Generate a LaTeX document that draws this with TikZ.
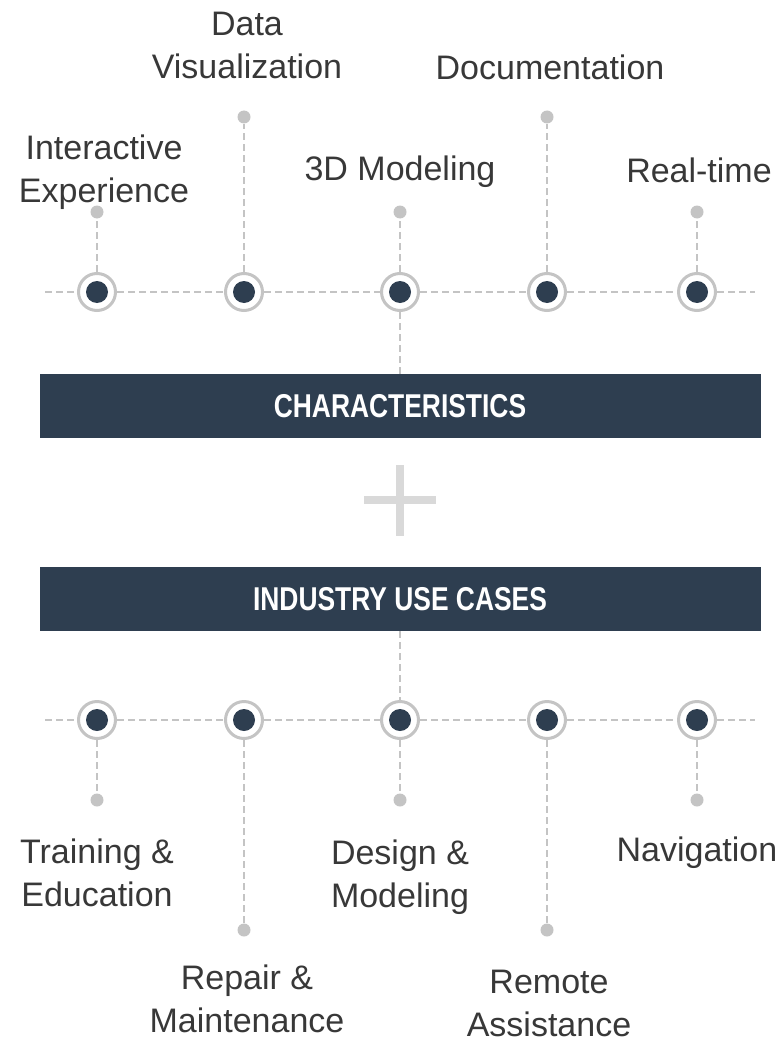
\documentclass[tikz,border=0pt]{standalone}
\usepackage{fontspec}
\setmainfont{Liberation Sans}
\usetikzlibrary{positioning}

\definecolor{navy}{HTML}{2E3E50}
\definecolor{linegray}{HTML}{C4C4C4}
\definecolor{plusgray}{HTML}{D9D9D9}
\definecolor{textgray}{HTML}{383838}

\newcommand{\narrowtext}[1]{\scalebox{0.8}[1]{#1}}

\begin{document}
\begin{tikzpicture}[x=1pt,y=-1pt,
  hub/.style={circle,draw=linegray,line width=3pt,fill=white,minimum size=37pt,inner sep=0pt,
    path picture={\fill[navy] (path picture bounding box.center) circle (11pt);}},
  tip/.style={circle,fill=linegray,minimum size=13pt,inner sep=0pt},
  link/.style={linegray,line width=2.5pt,dash pattern=on 7pt off 4pt},
  lbl/.style={text=textgray,font=\fontsize{34}{43}\selectfont,align=center,inner sep=1pt},
  banner/.style={fill=navy,text=white,minimum width=721pt,minimum height=64pt,inner sep=0pt,
    font=\fontsize{33}{36}\selectfont\bfseries}]
\useasboundingbox (0,0) rectangle (779,1043);

% top row: characteristics
\coordinate (tl) at (45,292);
\coordinate (tr) at (755,292);
\node[hub] (c1) at (97,292) {};
\node[hub] (c2) at (244,292) {};
\node[hub] (c3) at (400,292) {};
\node[hub] (c4) at (547,292) {};
\node[hub] (c5) at (697,292) {};

\node[tip] (t1) at (97,212) {};
\node[tip] (t2) at (244,117) {};
\node[tip] (t3) at (400,212) {};
\node[tip] (t4) at (547,117) {};
\node[tip] (t5) at (697,212) {};

\node[lbl] (l1) at (104,172) {Interactive\\Experience};
\node[lbl] (l2) at (247,45) {Data\\Visualization};
\node[lbl] (l3) at (400,172) {3D Modeling};
\node[lbl] (l4) at (550,67) {Documentation};
\node[lbl] (l5) at (699,170) {Real-time};

\draw[link] (tl) -- (c1) -- (c2) -- (c3) -- (c4) -- (c5) -- (tr);
\draw[link] (c1) -- (t1);
\draw[link] (c2) -- (t2);
\draw[link] (c3) -- (t3);
\draw[link] (c4) -- (t4);
\draw[link] (c5) -- (t5);

% banners and plus
\node[banner] (chars) at (400,406) {\narrowtext{CHARACTERISTICS}};
\node[banner] (uses) at (400,599) {\narrowtext{INDUSTRY USE CASES}};
\draw[link] (c3) -- (chars);

\draw[plusgray,line width=8pt] (364,500) -- (436,500);
\draw[plusgray,line width=8pt] (400,465) -- (400,536);

% bottom row: use cases
\coordinate (bl) at (45,720);
\coordinate (br) at (755,720);
\node[hub] (u1) at (97,720) {};
\node[hub] (u2) at (244,720) {};
\node[hub] (u3) at (400,720) {};
\node[hub] (u4) at (547,720) {};
\node[hub] (u5) at (697,720) {};

\node[tip] (d1) at (97,800) {};
\node[tip] (d2) at (244,930) {};
\node[tip] (d3) at (400,800) {};
\node[tip] (d4) at (547,930) {};
\node[tip] (d5) at (697,800) {};

\node[lbl] (b1) at (97,873) {Training \&\\Education};
\node[lbl] (b2) at (247,999) {Repair \&\\Maintenance};
\node[lbl] (b3) at (400,877) {Design \&\\Modeling};
\node[lbl] (b4) at (549,1003) {Remote\\Assistance};
\node[lbl] (b5) at (697,853) {Navigation};

\draw[link] (bl) -- (u1) -- (u2) -- (u3) -- (u4) -- (u5) -- (br);
\draw[link] (u1) -- (d1);
\draw[link] (u2) -- (d2);
\draw[link] (u3) -- (d3);
\draw[link] (u4) -- (d4);
\draw[link] (u5) -- (d5);
\draw[link] (uses) -- (u3);
\end{tikzpicture}
\end{document}
